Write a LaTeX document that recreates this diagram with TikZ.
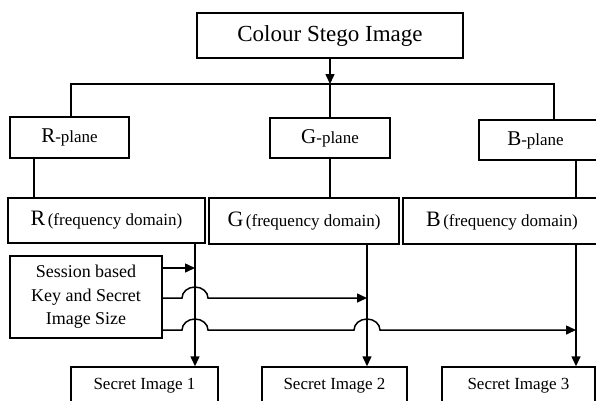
\documentclass[tikz,border=0pt]{standalone}
\usepackage{fontspec}
\setmainfont{Liberation Serif}
\usetikzlibrary{arrows.meta}
\begin{document}
\begin{tikzpicture}[x=1pt,y=-1pt,
  box/.style={draw, line width=1.5pt, inner sep=0pt, anchor=center},
  conn/.style={line width=1.5pt},
  arr/.style={conn, -{Triangle[length=10pt,width=9pt]}},
  big/.style={font=\fontsize{23}{27}\selectfont},
  mid/.style={font=\fontsize{17}{21}\selectfont},
]
\useasboundingbox (0,0) rectangle (596,400);
% nodes
\node[box, big, minimum width=266pt, minimum height=45pt] (top) at (330,35.5) {Colour Stego Image};
\node[box, minimum width=119pt, minimum height=41pt] (rp) at (69.5,137.5) {{\fontsize{21}{24}\selectfont R}{\fontsize{17}{20}\selectfont -plane}};
\node[box, minimum width=120pt, minimum height=40pt] (gp) at (330,138) {{\fontsize{21}{24}\selectfont G}{\fontsize{17}{20}\selectfont -plane}};
\node[box, minimum width=121pt, minimum height=40pt] (bp) at (539.5,140) {};
\node[inner sep=0pt] (bpt) at (535.5,140) {{\fontsize{21}{24}\selectfont B}{\fontsize{17}{20}\selectfont -plane}};
\node[box, minimum width=197pt, minimum height=45pt] (rf) at (106.5,220.5) {{\fontsize{22}{25}\selectfont R} {\fontsize{17}{20}\selectfont (frequency domain)}};
\node[box, minimum width=190pt, minimum height=46pt] (gf) at (304,221) {{\fontsize{22}{25}\selectfont G} {\fontsize{17}{20}\selectfont (frequency domain)}};
\node[box, minimum width=198pt, minimum height=46pt] (bf) at (502,221) {{\fontsize{22}{25}\selectfont B} {\fontsize{17}{20}\selectfont (frequency domain)}};
\node[box, align=center, font=\fontsize{18}{23.5}\selectfont, minimum width=152pt, minimum height=82pt] (sess) at (86,297) {Session based\\Key and Secret\\Image Size};
\node[box, mid, minimum width=147pt, minimum height=38pt] (s1) at (144.5,386) {Secret Image 1};
\node[box, mid, minimum width=145pt, minimum height=38pt] (s2) at (334.5,386) {Secret Image 2};
\node[box, mid, minimum width=153pt, minimum height=38pt] (s3) at (518.5,386) {Secret Image 3};
% helper coordinates
\coordinate (hl) at (71,84);
\coordinate (hr) at (554,84);
\coordinate (xr) at (34,0);
\coordinate (xb) at (576,0);
\coordinate (xR) at (195,0);
\coordinate (xG) at (367,0);
\coordinate (y1) at (0,268);
\coordinate (y2) at (0,298);
\coordinate (y3) at (0,330);
% top tree
\draw[arr] (top.south) -- (top.south |- hl);
\draw[conn] (hl |- rp.north) -- (hl) -- (hr) -- (hr |- bp.north);
\draw[conn] (gp.north) -- (gp.north |- hl);
% planes to frequency domain
\draw[conn] (rp.south -| xr) -- (rf.north -| xr);
\draw[conn] (gp.south) -- (gp.south |- gf.north);
\draw[conn] (bp.south -| xb) -- (bf.north -| xb);
% frequency domain to secret images
\draw[arr] (rf.south -| xR) -- (s1.north -| xR);
\draw[arr] (gf.south -| xG) -- (s2.north -| xG);
\draw[arr] (bf.south -| xb) -- (s3.north -| xb);
% session key lines
\draw[arr] (sess.east |- y1) -- (xR |- y1);
\draw[arr] (sess.east |- y2) -- ([xshift=-13pt]xR |- y2) arc[start angle=180, end angle=0, x radius=13pt, y radius=11pt] -- (xG |- y2);
\draw[arr] (sess.east |- y3) -- ([xshift=-13pt]xR |- y3) arc[start angle=180, end angle=0, x radius=13pt, y radius=11pt]
  -- ([xshift=-13pt]xG |- y3) arc[start angle=180, end angle=0, x radius=13pt, y radius=11pt] -- (xb |- y3);
\end{tikzpicture}
\end{document}
